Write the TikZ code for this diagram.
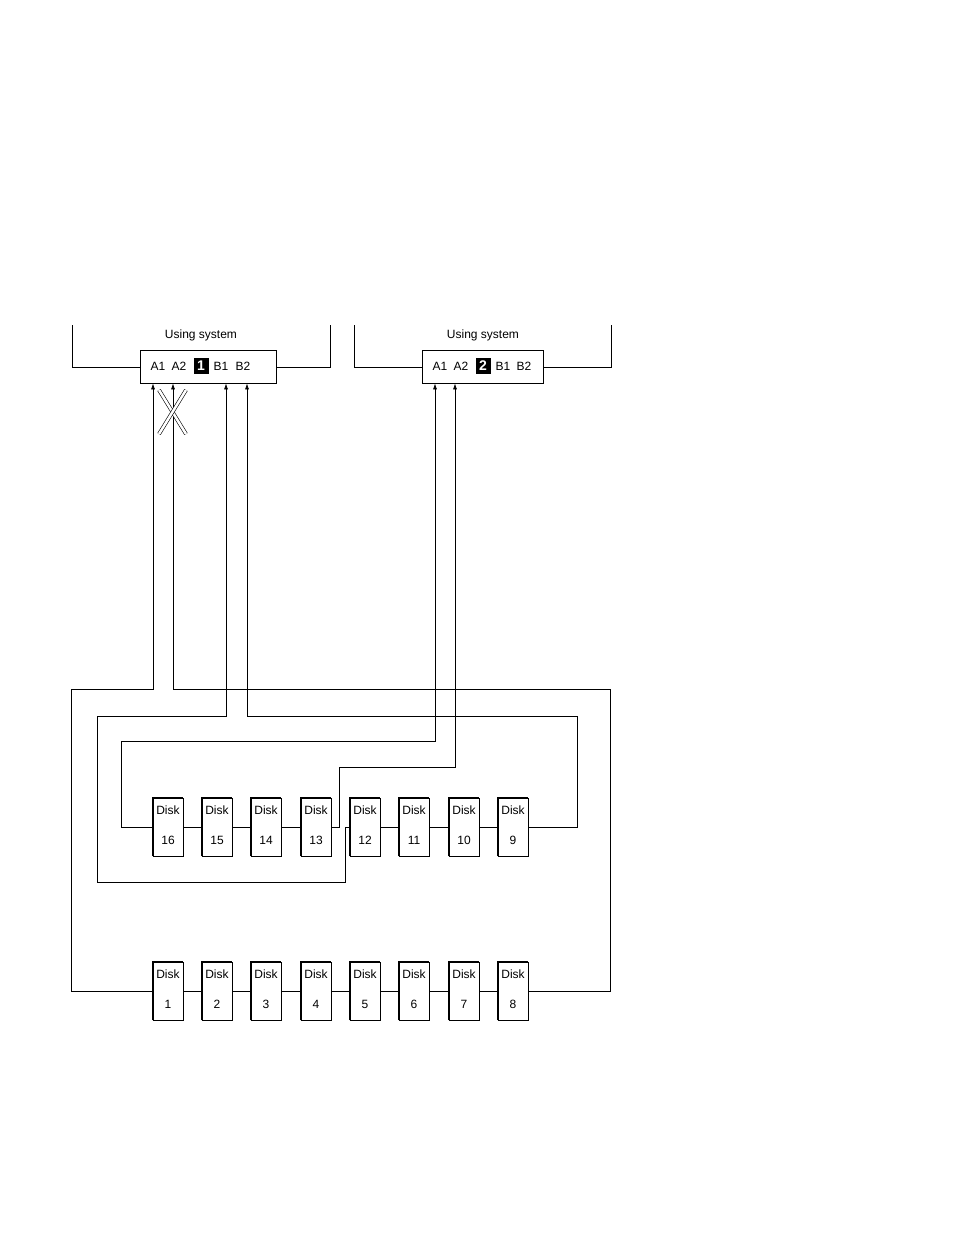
\documentclass[tikz,border=0pt]{standalone}
\usepackage{fontspec}
\setmainfont{Liberation Sans}
\usetikzlibrary{arrows.meta}
\begin{document}
\begin{tikzpicture}[x=1pt,y=-1pt,line width=0.7pt,
  disk/.style={draw,minimum width=30pt,minimum height=58pt,inner sep=0pt},
  adapter/.style={draw,minimum height=33pt,inner sep=0pt},
  lbl/.style={font=\fontsize{12}{14}\selectfont,inner sep=0pt},
  num/.style={fill=black,text=white,font=\fontsize{14}{16}\selectfont\bfseries,minimum width=15pt,minimum height=16pt,inner sep=0pt},
  arr/.style={-{Latex[length=6pt,width=4pt]}}]
\useasboundingbox (0,0) rectangle (954,1235);
% frames
\node[adapter,minimum width=136pt] (ad1) at (208,366.5) {};
\node[adapter,minimum width=121pt] (ad2) at (482.5,366.5) {};
\draw (72,325) -- (72,367) -- (ad1.west|-0,367);
\draw (ad1.east|-0,367) -- (330,367) -- (330,325);
\draw (354,325) -- (354,367) -- (ad2.west|-0,367);
\draw (ad2.east|-0,367) -- (611,367) -- (611,325);
\node[lbl] (us1) at (201,335) {Using system};
\node[lbl] (us2) at (483,335) {Using system};
\node[lbl] (a11) at (158,366) {A1};
\node[lbl] (a21) at (179,366) {A2};
\node[num] (n1) at (201,366) {1};
\node[lbl] (b11) at (221,366) {B1};
\node[lbl] (b21) at (243,366) {B2};
\node[lbl] (a12) at (440,366) {A1};
\node[lbl] (a22) at (461,366) {A2};
\node[num] (n2) at (483,366) {2};
\node[lbl] (b12) at (503,366) {B1};
\node[lbl] (b22) at (524,366) {B2};
% disks
\foreach \i/\x in {16/168,15/217,14/266,13/316,12/365,11/414,10/464,9/513}{
  \node[disk] (d\i) at (\x,827) {};
  \draw[line width=2pt] (d\i.south west) -- (d\i.north west) -- (d\i.north east);
  \node[lbl] (dt\i) at (\x,810) {Disk};
  \node[lbl] (dn\i) at (\x,840) {\i};
}
\foreach \i/\x in {1/168,2/217,3/266,4/316,5/365,6/414,7/464,8/513}{
  \node[disk] (d\i) at (\x,991) {};
  \draw[line width=2pt] (d\i.south west) -- (d\i.north west) -- (d\i.north east);
  \node[lbl] (dt\i) at (\x,974) {Disk};
  \node[lbl] (dn\i) at (\x,1004) {\i};
}
\foreach \a/\b in {16/15,15/14,14/13,12/11,11/10,10/9,1/2,2/3,3/4,4/5,5/6,6/7,7/8}
  \draw (d\a.east) -- (d\b.west);
% cables
\coordinate (c1) at (153,689); \coordinate (c2) at (173,689);
\coordinate (c3) at (226,716); \coordinate (c4) at (247,716);
\coordinate (c5) at (435,741); \coordinate (c6) at (455,767);
\draw[arr] (d1.west) -- (71,991) -- (71,689) -- (c1) -- (c1|-ad1.south);
\draw[arr] (d8.east) -- (610,991) -- (610,689) -- (c2) -- (c2|-ad1.south);
\draw[arr] (d12.west) -- (345,827) -- (345,882) -- (97,882) -- (97,716) -- (c3) -- (c3|-ad1.south);
\draw[arr] (d9.east) -- (577,827) -- (577,716) -- (c4) -- (c4|-ad1.south);
\draw[arr] (d16.west) -- (121,827) -- (121,741) -- (c5) -- (c5|-ad2.south);
\draw[arr] (d13.east) -- (339,827) -- (339,767) -- (c6) -- (c6|-ad2.south);
% cross mark
\draw[line width=0.6pt,double=white,double distance=2.5pt] (159,390) -- (186,434);
\draw[line width=0.6pt,double=white,double distance=2.5pt] (186,390) -- (159,434);
\end{tikzpicture}
\end{document}
